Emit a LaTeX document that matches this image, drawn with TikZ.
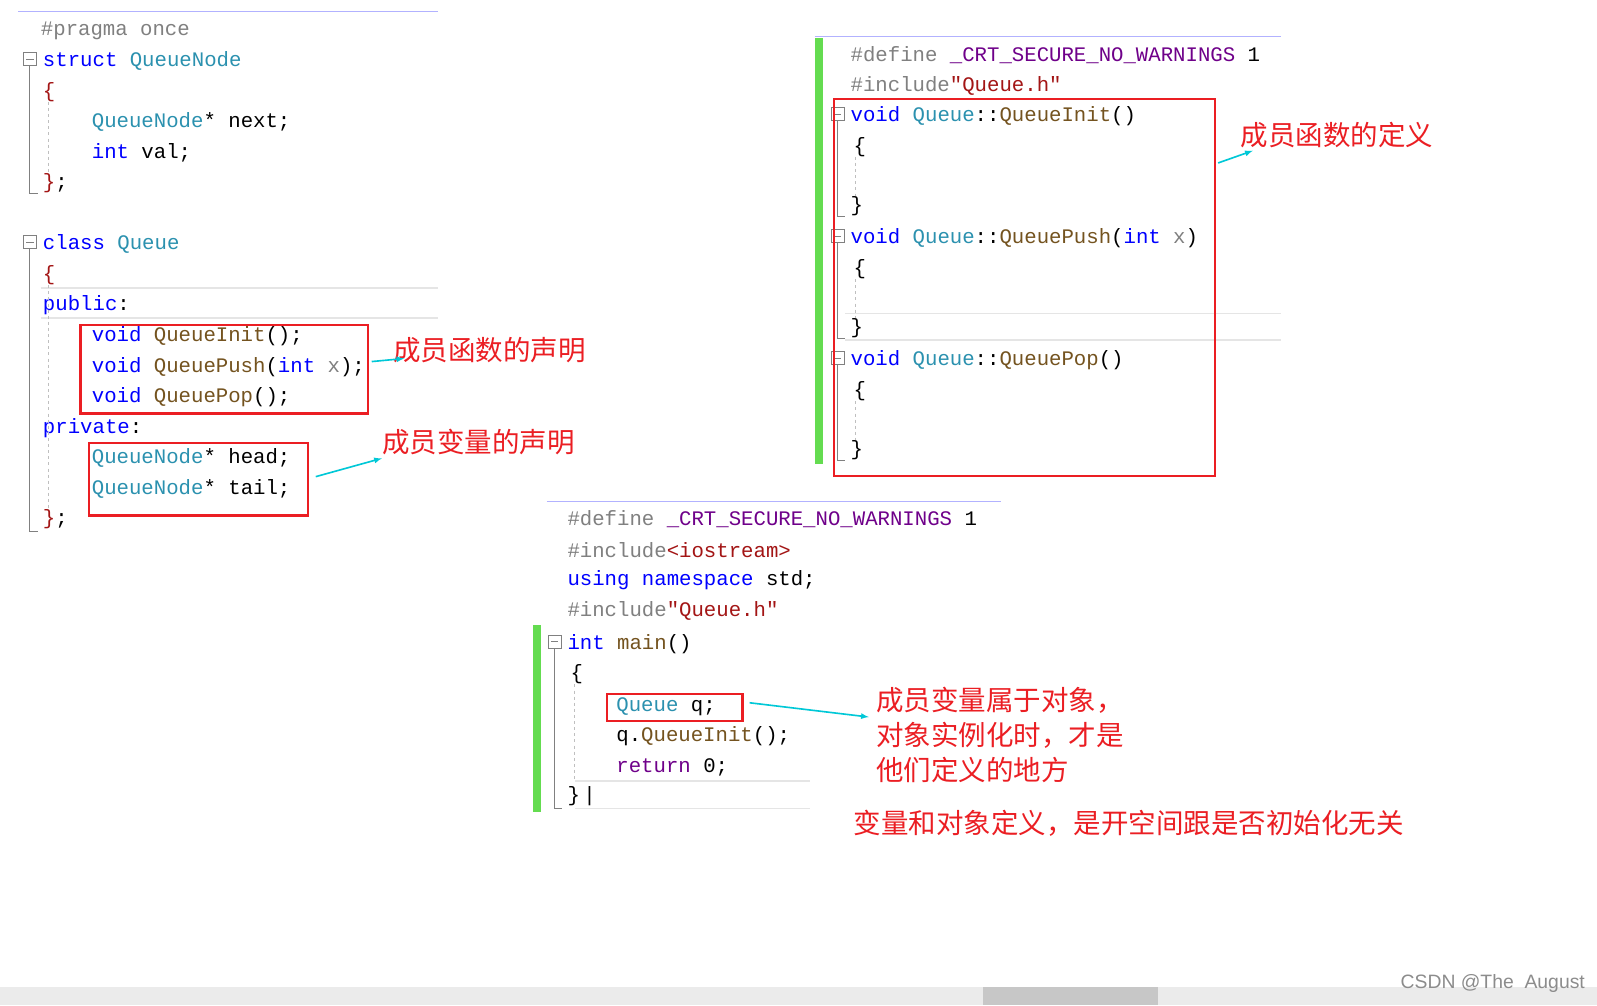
\documentclass[tikz,border=0pt]{standalone}
\usepackage{fontspec}
\setmonofont{Liberation Mono}
\newfontfamily\cjk{Noto Sans CJK SC}
\definecolor{kw}{RGB}{0,0,255}
\definecolor{ty}{RGB}{43,145,175}
\definecolor{pp}{RGB}{128,128,128}
\definecolor{st}{RGB}{163,21,21}
\definecolor{mc}{RGB}{111,0,138}
\definecolor{rb}{RGB}{235,30,35}
\definecolor{ar}{RGB}{0,200,215}
\definecolor{gb}{RGB}{100,220,80}
\definecolor{fn}{RGB}{116,83,31}
\begin{document}
\begin{tikzpicture}[x=1pt,y=-1pt,
  code/.style={anchor=west,inner sep=0pt,yshift=-2pt,font=\ttfamily\fontsize{20.3}{20}\selectfont},
  zh/.style={anchor=west,inner sep=0pt,font=\cjk\fontsize{27}{27}\selectfont,text=rb},
  rbox/.style={draw=rb,line width=2.2pt},
  arr/.style={draw=ar,line width=1.6pt,-latex},
  gbar/.style={fill=gb,draw=none},
  fold/.style={draw=pp,line width=0.8pt},
  guide/.style={draw=pp!50,dashed,line width=0.6pt},
  sep/.style={draw=black!10,line width=1.5pt}]
\useasboundingbox (0,0) rectangle (1568,987);
\fill[white] (0,0) rectangle (1568,987);
% ---------- left block
\draw[draw=blue!30,line width=1pt] (18,11) -- (430,11);
\node[code] (l1) at (40,28) {\textcolor{pp}{\#pragma once}};
\node[code] (l2) at (42,58) {\textcolor{kw}{struct} \textcolor{ty}{QueueNode}};
\node[code] (l3) at (42,88) {\textcolor{st}{\{}};
\node[code] (l4) at (90,118) {\textcolor{ty}{QueueNode}* next;};
\node[code] (l5) at (90,148) {\textcolor{kw}{int} val;};
\node[code] (l6) at (42,178) {\textcolor{st}{\}};};
\draw[fold] (23,51) rectangle (36,64); \draw[fold] (26,58) -- (33,58);
\draw[fold] (29,64) -- (29,190) -- (37,190);
\draw[guide] (47,100) -- (47,170);
\node[code] (l7) at (42,238) {\textcolor{kw}{class} \textcolor{ty}{Queue}};
\node[code] (l8) at (42,268) {\textcolor{st}{\{}};
\draw[sep] (40,283) -- (430,283); \draw[sep] (40,312) -- (430,312);
\node[code] (l9) at (42,298) {\textcolor{kw}{public}:};
\node[code] (l10) at (90,328) {\textcolor{kw}{void} \textcolor{fn}{QueueInit}();};
\node[code] (l11) at (90,358) {\textcolor{kw}{void} \textcolor{fn}{QueuePush}(\textcolor{kw}{int} \textcolor{pp}{x});};
\node[code] (l12) at (90,388) {\textcolor{kw}{void} \textcolor{fn}{QueuePop}();};
\node[code] (l13) at (42,418) {\textcolor{kw}{private}:};
\node[code] (l14) at (90,448) {\textcolor{ty}{QueueNode}* head;};
\node[code] (l15) at (90,478) {\textcolor{ty}{QueueNode}* tail;};
\node[code] (l16) at (42,508) {\textcolor{st}{\}};};
\draw[fold] (23,231) rectangle (36,244); \draw[fold] (26,238) -- (33,238);
\draw[fold] (29,244) -- (29,522) -- (37,522);
\draw[guide] (47,280) -- (47,500);
\node[rbox,minimum width=282pt,minimum height=87pt,anchor=north west] (b1) at (78,318) {};
\node[rbox,minimum width=215pt,minimum height=71pt,anchor=north west] (b2) at (86,434) {};
\node[zh] (t1) at (386,344) {成员函数的声明};
\node[zh] (t2) at (375,434) {成员变量的声明};
\coordinate (a1s) at (365,355);
\coordinate (a2s) at (310,468);
\draw[arr] (a1s) -- (397,352);
\draw[arr] (a2s) -- (375,450);
% ---------- right top
\draw[draw=blue!30,line width=1pt] (800,36) -- (1258,36);
\fill[gbar] (800,37) rectangle (808,456);
\node[code] (r1) at (835,52) {\textcolor{pp}{\#define} \textcolor{mc}{\_CRT\_SECURE\_NO\_WARNINGS} 1};
\node[code] (r2) at (835,82) {\textcolor{pp}{\#include}\textcolor{st}{"Queue.h"}};
\node[code] (r3) at (835,112) {\textcolor{kw}{void} \textcolor{ty}{Queue}::\textcolor{fn}{QueueInit}()};
\node[code] (r4) at (838,142) {\{};
\node[code] (r5) at (835,200) {\}};
\node[code] (r6) at (835,232) {\textcolor{kw}{void} \textcolor{ty}{Queue}::\textcolor{fn}{QueuePush}(\textcolor{kw}{int} \textcolor{pp}{x})};
\node[code] (r7) at (838,262) {\{};
\draw[sep] (830,308) -- (1258,308); \draw[sep] (830,334) -- (1258,334);
\node[code] (r8) at (835,320) {\}};
\node[code] (r9) at (835,352) {\textcolor{kw}{void} \textcolor{ty}{Queue}::\textcolor{fn}{QueuePop}()};
\node[code] (r10) at (838,382) {\{};
\node[code] (r11) at (835,440) {\}};
\foreach \y/\e in {112/212,232/332,352/452}{
  \draw[fold] (816,\y-7) rectangle (829,\y+6); \draw[fold] (819,\y) -- (826,\y);
  \draw[fold] (822,\y+6) -- (822,\e) -- (830,\e);
  \draw[guide] (840,\y+42) -- (840,\y+80);}
\node[rbox,minimum width=374pt,minimum height=370pt,anchor=north west] (b3) at (818,96) {};
\node[zh] (t3) at (1218,133) {成员函数的定义};
\coordinate (a3s) at (1196,160);
\draw[arr] (a3s) -- (1230,148);
% ---------- bottom
\draw[draw=blue!30,line width=1pt] (537,492) -- (983,492);
\node[code] (m1) at (557,508) {\textcolor{pp}{\#define} \textcolor{mc}{\_CRT\_SECURE\_NO\_WARNINGS} 1};
\node[code] (m2) at (557,538) {\textcolor{pp}{\#include}\textcolor{st}{<iostream>}};
\node[code] (m3) at (557,568) {\textcolor{kw}{using namespace} std;};
\node[code] (m4) at (557,598) {\textcolor{pp}{\#include}\textcolor{st}{"Queue.h"}};
\fill[gbar] (523,614) rectangle (531,797);
\node[code] (m5) at (557,630) {\textcolor{kw}{int} \textcolor{fn}{main}()};
\node[code] (m6) at (560,660) {\{};
\node[code] (m7) at (605,692) {\textcolor{ty}{Queue} q;};
\node[code] (m8) at (605,721) {q.\textcolor{fn}{QueueInit}();};
\node[code] (m9) at (605,751) {\textcolor{mc}{return} 0;};
\draw[sep] (565,767) -- (795,767); \draw[sep] (565,794) -- (795,794);
\node[code] (m10) at (557,780) {\}\,|};
\draw[fold] (538,624) rectangle (551,637); \draw[fold] (541,630) -- (548,630);
\draw[fold] (544,637) -- (544,794) -- (552,794);
\draw[guide] (564,672) -- (564,765);
\node[rbox,minimum width=133pt,minimum height=27pt,anchor=north west] (b4) at (595,680) {};
\node[zh] (t4) at (860,688) {成员变量属于对象，};
\node[zh] (t5) at (860,722) {对象实例化时，才是};
\node[zh] (t6) at (860,756) {他们定义的地方};
\node[zh] (t7) at (838,808) {变量和对象定义，是开空间跟是否初始化无关};
\coordinate (a4s) at (736,690);
\draw[arr] (a4s) -- (853,704);
% ---------- footer
\fill[black!8] (0,969) rectangle (1568,987);
\fill[black!22] (965,969) rectangle (1137,987);
\node[anchor=west,inner sep=0pt,font=\fontspec{Liberation Sans}\fontsize{19}{19}\selectfont,text=black!45] (wm) at (1375,966) {CSDN @The\ \ August};
\end{tikzpicture}
\end{document}
